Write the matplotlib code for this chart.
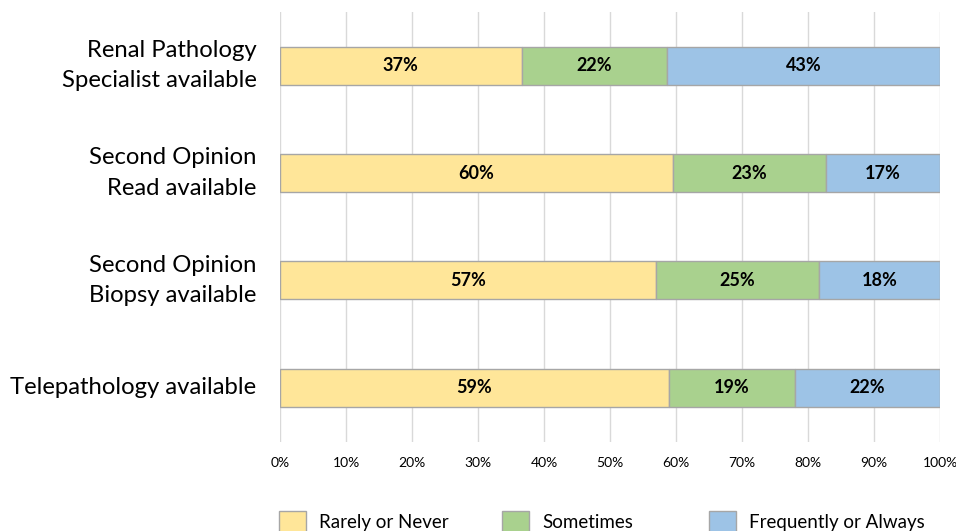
import matplotlib.pyplot as plt
from matplotlib.ticker import PercentFormatter
from matplotlib.patches import Patch

plt.rcParams['font.family'] = ['Lato', 'DejaVu Sans']

categories = ["Renal Pathology\nSpecialist available",
              "Second Opinion\nRead available",
              "Second Opinion\nBiopsy available",
              "Telepathology available"]
series_names = ["Rarely or Never", "Sometimes", "Frequently or Always"]
colors = ["#ffe699", "#a9d18e", "#9dc3e6"]

rarely = [36.6, 59.5, 56.9, 58.9]
sometimes = [22.0, 23.3, 24.7, 19.1]
frequently = [41.4, 17.2, 18.4, 22.0]

rarely_lbl = ["37%", "60%", "57%", "59%"]
sometimes_lbl = ["22%", "23%", "25%", "19%"]
frequently_lbl = ["43%", "17%", "18%", "22%"]

fig = plt.figure(figsize=(9.56, 5.31), dpi=100)
ax = fig.add_axes([280/956, 1-441.5/531, 660/956, (441.5-12)/531])

y = list(range(len(categories)))
left = [0]*len(categories)
for vals, lbls, col in [(rarely, rarely_lbl, colors[0]),
                        (sometimes, sometimes_lbl, colors[1]),
                        (frequently, frequently_lbl, colors[2])]:
    bars = ax.barh(y, vals, left=left, height=0.355, color=col,
                   edgecolor="#a6a6a6", linewidth=1.0, zorder=3)
    ax.bar_label(bars, labels=lbls, label_type="center",
                 fontsize=13, fontweight="bold", color="black")
    left = [l + v for l, v in zip(left, vals)]

ax.set_xlim(0, 100)
ax.set_ylim(3.5, -0.5)
ax.set_xticks(range(0, 101, 10))
ax.xaxis.set_major_formatter(PercentFormatter(decimals=0))
ax.set_yticks(y)
ax.set_yticklabels(categories, fontsize=17.2, linespacing=1.55, va="center")
ax.tick_params(axis="x", labelsize=10, length=0, pad=11)
ax.tick_params(axis="y", length=0, pad=17)
ax.grid(axis="x", color="#d9d9d9", linewidth=1.0, zorder=0)
for s in ax.spines.values():
    s.set_visible(False)

# one legend entry per column, placed like the original
legend_x = [279/956, 502/956, 709/956]
for name, col, lx in zip(series_names, colors, legend_x):
    fig.legend([Patch(facecolor=col, edgecolor="#a6a6a6")], [name],
               loc="center left", bbox_to_anchor=(lx, 0.018), frameon=False,
               fontsize=13.5, handlelength=1.45, handleheight=1.3,
               handletextpad=0.7, borderpad=0, borderaxespad=0)

fig.savefig("out.png", dpi=100)
